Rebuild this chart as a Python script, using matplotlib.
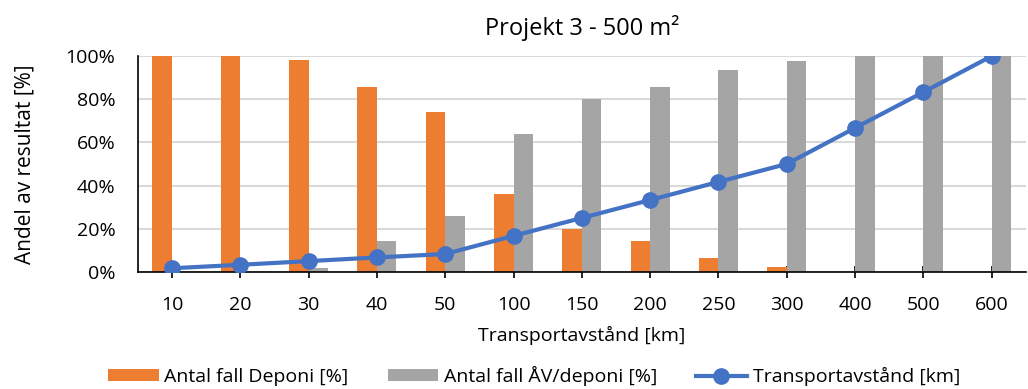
import numpy as np
import matplotlib.pyplot as plt

plt.rcParams['font.family'] = ['Open Sans', 'DejaVu Sans']

avstand = ['10', '20', '30', '40', '50', '100', '150', '200', '250', '300', '400', '500', '600']
deponi = [100, 100, 98, 85.5, 74, 36, 20, 14.5, 6.5, 2.5, 0, 0, 0]
av_deponi = [0, 0, 2, 14.5, 26, 64, 80, 85.5, 93.5, 97.5, 100, 100, 100]
transport = [1.7, 3.3, 5.0, 6.7, 8.3, 16.7, 25.0, 33.3, 41.7, 50.0, 66.7, 83.3, 100.0]

orange = '#ED7D31'
gray = '#A5A5A5'
blue = '#4472C4'

fig = plt.figure(figsize=(10.28, 3.89), dpi=100)
ax = fig.add_axes([0.134, 0.301, 0.864, 0.555])

x = np.arange(len(avstand))
w = 0.285
b1 = ax.bar(x - w / 2, deponi, w, color=orange, label='Antal fall Deponi [%]', zorder=2)
b2 = ax.bar(x + w / 2, av_deponi, w, color=gray, label='Antal fall ÅV/deponi [%]', zorder=2)
l1, = ax.plot(x, transport, color=blue, lw=3, marker='o', ms=11, label='Transportavstånd [km]', zorder=3)

ax.set_xlim(-0.5, len(avstand) - 0.5)
ax.set_ylim(0, 100)
ax.set_yticks([0, 20, 40, 60, 80, 100])
ax.set_yticklabels(['0%', '20%', '40%', '60%', '80%', '100%'])
ax.set_xticks(x)
ax.set_xticklabels(avstand)
ax.grid(axis='y', color='#D9D9D9', lw=1.5, zorder=0)
ax.set_axisbelow(True)

for s in ['top', 'right']:
    ax.spines[s].set_visible(False)
ax.spines['left'].set_color('black')
ax.spines['bottom'].set_color('black')
ax.spines['left'].set_linewidth(1.2)
ax.spines['bottom'].set_linewidth(1.2)
ax.tick_params(axis='y', length=0, labelsize=14, pad=16)
ax.tick_params(axis='x', direction='inout', length=8, width=1.2, labelsize=14, pad=13)

ax.set_xlabel('Transportavstånd [km]', fontsize=14, labelpad=9)
ax.set_ylabel('Andel av resultat [%]', fontsize=15, labelpad=22)
ax.set_title('Projekt 3 - 500 m²', fontsize=17, pad=15)

fig.legend([b1, b2, l1], [b1.get_label(), b2.get_label(), l1.get_label()],
           loc='center', bbox_to_anchor=(534 / 1028, 1 - 376 / 389), ncol=3, frameon=False,
           fontsize=14, handlelength=2.6, handleheight=0.6, columnspacing=2.0, handletextpad=0.3)

plt.savefig('out.png', dpi=100)
